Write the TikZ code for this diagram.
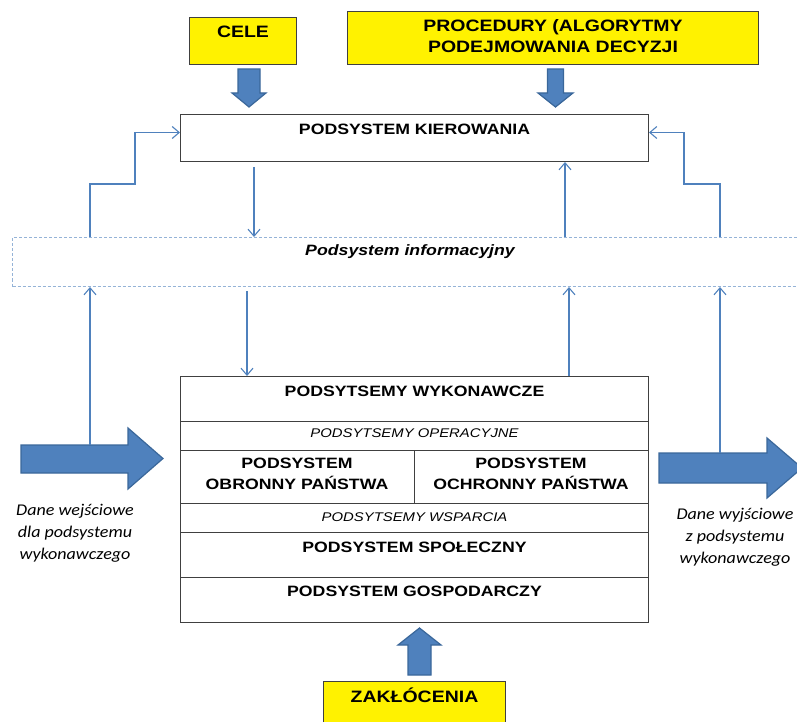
\documentclass[tikz,border=0pt]{standalone}
\usepackage{fontspec}
\setmainfont{Liberation Sans}
\newfontfamily\hv[FakeStretch=1.18]{Liberation Sans}
\newfontfamily\cb[FakeStretch=1.1]{Carlito}
\usetikzlibrary{arrows.meta}
\usetikzlibrary{calc}

\definecolor{fatblue}{HTML}{4F81BD}
\definecolor{fatedge}{HTML}{3A679A}
\definecolor{infoedge}{HTML}{95B3D7}
\definecolor{boxedge}{HTML}{404040}

\tikzset{
	yel/.style={draw=boxedge, fill=yellow, line width=1pt, inner sep=0pt},
	sys/.style={draw=boxedge, line width=1pt, inner sep=0pt},
	infobox/.style={draw=infoedge, line width=1pt, dash pattern=on 3pt off 2pt, inner sep=0pt},
	fat/.style={fill=fatblue, draw=fatedge, line width=1.2pt, line join=miter},
	flow/.style={draw=fatblue, line width=1.1pt, -{Straight Barb[length=7pt,width=12pt]}},
	toptxt/.style={font=\hv\bfseries\fontsize{16.5}{21}\selectfont, align=center, inner sep=0pt},
	midtxt/.style={font=\hv\bfseries\fontsize{15}{21}\selectfont, align=center, inner sep=0pt},
	subtxt/.style={font=\hv\itshape\fontsize{12.6}{15}\selectfont, inner sep=0pt},
	notetxt/.style={font=\cb\itshape\fontsize{16.4}{22}\selectfont, align=center, inner sep=0pt}
}

\begin{document}
\begin{tikzpicture}[x=1pt, y=-1pt]
	\path[use as bounding box, clip] (0,0) rectangle (797,722);

	\node[yel, anchor=north west, minimum width=107, minimum height=47] (cele) at (189,17) {};
	\node[toptxt] (celetxt) at ([yshift=-15pt]cele.north) {CELE};
	\node[yel, anchor=north west, minimum width=411, minimum height=53] (proc) at (347,11) {};
	\node[toptxt] (proctxt) at ([yshift=-25.5pt]proc.north) {PROCEDURY (ALGORYTMY\\PODEJMOWANIA DECYZJI};
	\node[yel, anchor=north west, minimum width=182, minimum height=50] (zak) at (323,681) {};
	\node[toptxt] (zaktxt) at ([yshift=-14pt]zak.north) {ZAKŁÓCENIA};

	\node[sys, anchor=north west, minimum width=468, minimum height=47] (kier) at (180,114) {};
	\node[midtxt] (kiertxt) at ([yshift=-15pt]kier.north) {PODSYSTEM KIEROWANIA};

	\node[infobox, anchor=north west, minimum width=800, minimum height=49] (info) at (12,237) {};
	\node[midtxt, font=\hv\bfseries\itshape\fontsize{15}{18}\selectfont] (infotxt) at ([xshift=398pt, yshift=-15pt]info.north west) {Podsystem informacyjny};

	\node[sys, anchor=north west, minimum width=468, minimum height=246] (wyk) at (180,376) {};
	\foreach \dy in {45,74,127,156,201}{
		\draw[sys] ([yshift=-\dy pt]wyk.north west) -- ([yshift=-\dy pt]wyk.north east);
	}
	\draw[sys] ([xshift=234pt, yshift=-74pt]wyk.north west) -- ([xshift=234pt, yshift=-127pt]wyk.north west);
	\node[midtxt] (wyktxt) at ([yshift=-15pt]wyk.north) {PODSYTSEMY WYKONAWCZE};
	\node[subtxt] (optxt) at ([yshift=-57pt]wyk.north) {PODSYTSEMY OPERACYJNE};
	\node[midtxt] (obrtxt) at ([xshift=117pt, yshift=-97.5pt]wyk.north west) {PODSYSTEM\\OBRONNY PAŃSTWA};
	\node[midtxt] (ochtxt) at ([xshift=351pt, yshift=-97.5pt]wyk.north west) {PODSYSTEM\\OCHRONNY PAŃSTWA};
	\node[subtxt] (wsptxt) at ([yshift=-141pt]wyk.north) {PODSYTSEMY WSPARCIA};
	\node[midtxt] (spotxt) at ([yshift=-171pt]wyk.north) {PODSYSTEM SPOŁECZNY};
	\node[midtxt] (gostxt) at ([yshift=-215pt]wyk.north) {PODSYSTEM GOSPODARCZY};

	% grube strzalki
	\filldraw[fat] (238,69) -- (260,69) -- (260,93) -- (266,93) -- (249,107) -- (232,93) -- (238,93) -- cycle;
	\filldraw[fat] (547.5,69) -- (563.5,69) -- (563.5,93) -- (573,93) -- (555.5,107) -- (538,93) -- (547.5,93) -- cycle;
	\filldraw[fat] (408,675) -- (431,675) -- (431,645) -- (441,645) -- (419.5,628) -- (398,645) -- (408,645) -- cycle;
	\filldraw[fat] (21,445) -- (128,445) -- (128,428) -- (163,458.5) -- (128,489) -- (128,473) -- (21,473) -- cycle;
	\filldraw[fat] (659,453) -- (767,453) -- (767,438) -- (802,468) -- (767,498) -- (767,483) -- (659,483) -- cycle;
	\coordinate (inport) at (90,445);
	\coordinate (outport) at (720,453);

	\draw[flow] ([xshift=78pt]info.north west) |- (135,184) |- ([yshift=5.5pt]kier.west);
	\draw[flow] ([xshift=708pt]info.north west) |- (684,184) |- ([yshift=5.5pt]kier.east);
	\draw[flow] ([xshift=74pt, yshift=-5pt]kier.south west) -- ([xshift=242pt]info.north west);
	\draw[flow] ([xshift=553pt]info.north west) -- ([xshift=385pt]kier.south west);

	\draw[flow] (inport) -- ([xshift=78pt]info.south west);
	\draw[flow] ([xshift=235pt, yshift=-4pt]info.south west) -- ([xshift=67pt]wyk.north west);
	\draw[flow] ([xshift=389pt]wyk.north west) -- ([xshift=557pt]info.south west);
	\draw[flow] (outport) -- ([xshift=708pt]info.south west);

	\node[notetxt] (intxt) at (75,533) {Dane wejściowe\\dla podsystemu\\wykonawczego};
	\node[notetxt] (outtxt) at (735,537) {Dane wyjściowe\\z podsystemu\\wykonawczego};
\end{tikzpicture}
\end{document}
